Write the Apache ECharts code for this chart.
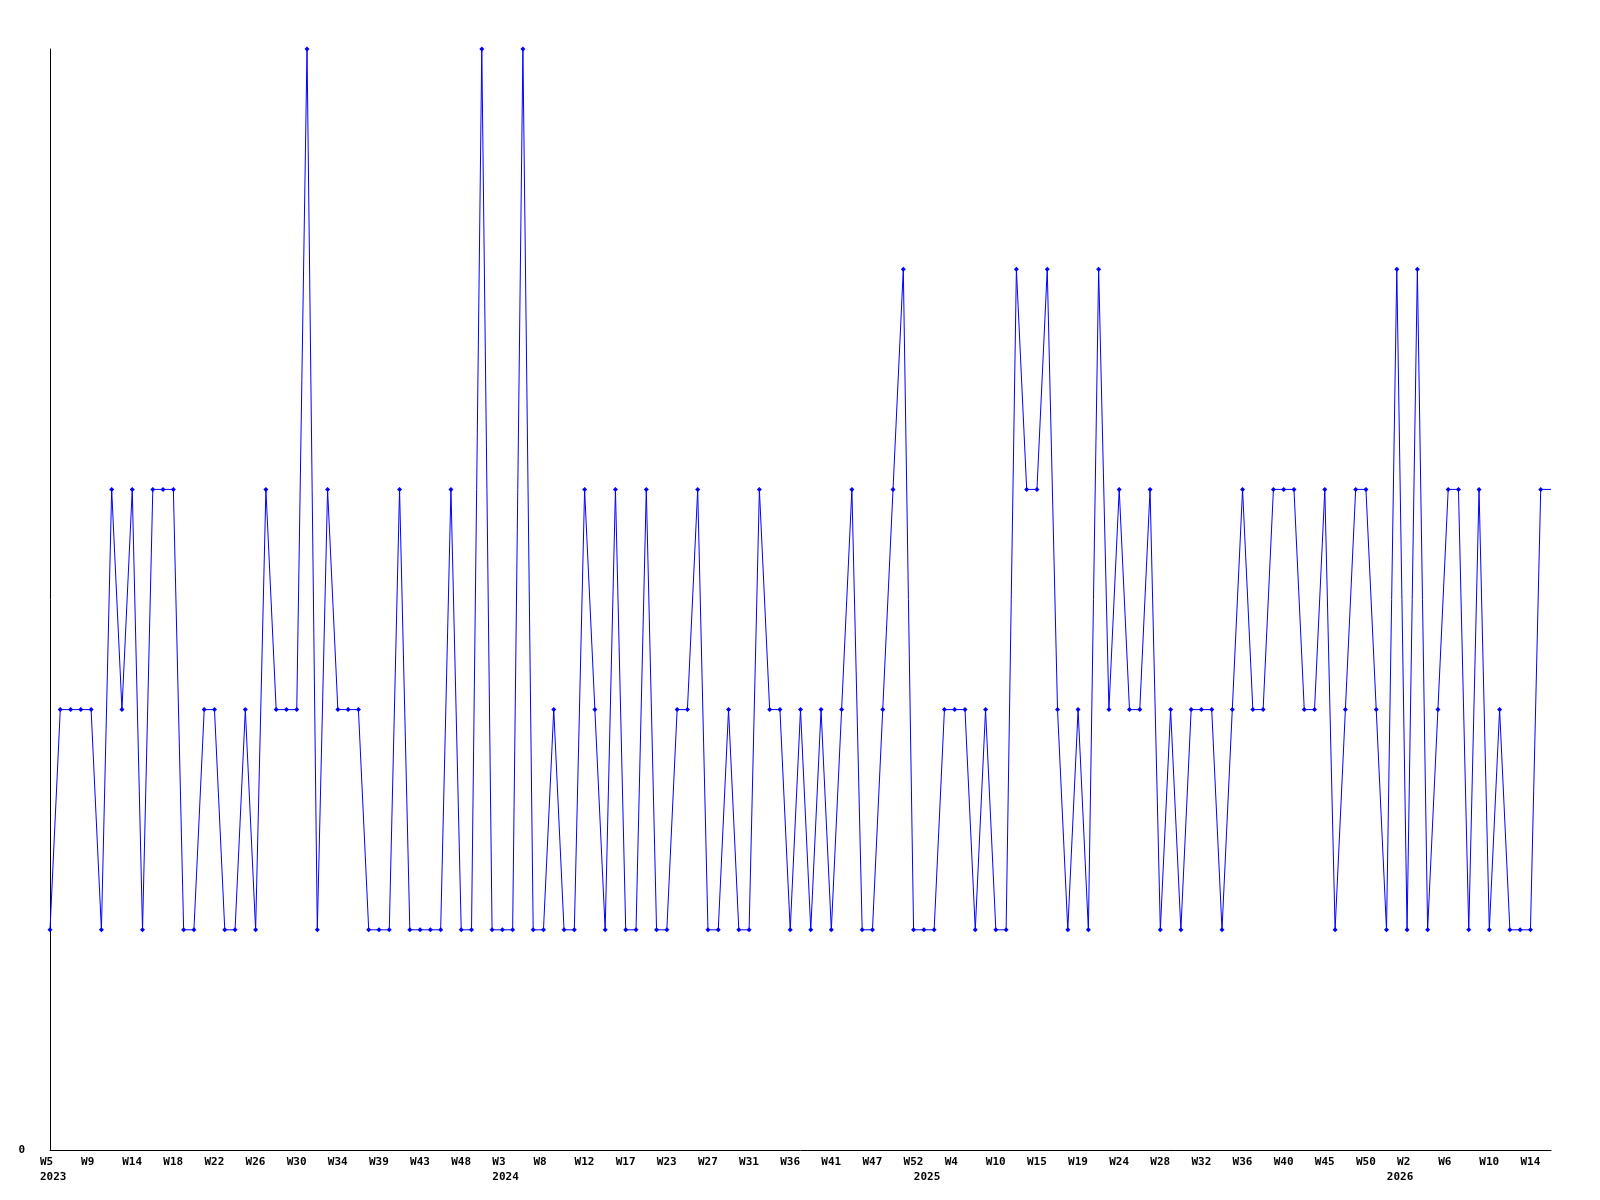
<!DOCTYPE html>
<html>
<head>
<meta charset="utf-8">
<script src="https://cdn.jsdelivr.net/npm/echarts@6/dist/echarts.min.js"></script>
<style>
  html, body { margin: 0; padding: 0; background: #ffffff; }
  #chart { width: 1600px; height: 1200px; }
</style>
</head>
<body>
<div id="chart"></div>
<script>
// Values (one per period); the last one is the line's end at the right edge.
const values = [
  1, 2, 2, 2, 2, 1, 3, 2, 3, 1,
  3, 3, 3, 1, 1, 2, 2, 1, 1, 2,
  1, 3, 2, 2, 2, 5, 1, 3, 2, 2,
  2, 1, 1, 1, 3, 1, 1, 1, 1, 3,
  1, 1, 5, 1, 1, 1, 5, 1, 1, 2,
  1, 1, 3, 2, 1, 3, 1, 1, 3, 1,
  1, 2, 2, 3, 1, 1, 2, 1, 1, 3,
  2, 2, 1, 2, 1, 2, 1, 2, 3, 1,
  1, 2, 3, 4, 1, 1, 1, 2, 2, 2,
  1, 2, 1, 1, 4, 3, 3, 4, 2, 1,
  2, 1, 4, 2, 3, 2, 2, 3, 1, 2,
  1, 2, 2, 2, 1, 2, 3, 2, 2, 3,
  3, 3, 2, 2, 3, 1, 2, 3, 3, 2,
  1, 4, 1, 4, 1, 2, 3, 3, 1, 3,
  1, 2, 1, 1, 1, 3, 3
];

// Week tick labels, one every 4 periods starting with the first one.
const weekLabels = [
  'W5', 'W9', 'W14', 'W18', 'W22', 'W26', 'W30', 'W34', 'W39', 'W43', 'W48',
  'W3', 'W8', 'W12', 'W17', 'W23', 'W27', 'W31', 'W36', 'W41', 'W47', 'W52',
  'W4', 'W10', 'W15', 'W19', 'W24', 'W28', 'W32', 'W36', 'W40', 'W45', 'W50',
  'W2', 'W6', 'W10', 'W14'
];
const weekLabelStep = 4;

// Year labels and the period where each one sits.
const yearLabels = ['2023', '2024', '2025', '2026'];
const yearLabelPeriods = [0, 44, 85, 131];

const yMin = 0;
const yMax = 5;

const categories = values.map((v, i) => String(i));
const seriesData = values.map((v, i) =>
  i === values.length - 1 ? { value: v, symbol: 'none' } : v
);

const FONT = 'DejaVu Sans Mono';
const richLabel = {
  a: { width: 20, align: 'left', fontFamily: FONT, fontWeight: 'bold', fontSize: 11, color: '#000' }
};

const chart = echarts.init(document.getElementById('chart'), null, { renderer: 'canvas' });
chart.setOption({
  animation: false,
  backgroundColor: '#ffffff',
  grid: { left: 50, right: 49, top: 49, bottom: 50 },
  xAxis: [
    {
      type: 'category',
      data: categories,
      boundaryGap: false,
      axisLine: { show: true, lineStyle: { color: '#000', width: 1 } },
      axisTick: { show: false },
      splitLine: { show: false },
      axisLabel: {
        margin: 7,
        interval: (i) => i % weekLabelStep === 0 && i / weekLabelStep < weekLabels.length,
        formatter: (val, i) => '{a|' + (weekLabels[i / weekLabelStep] || '') + '}',
        rich: richLabel
      }
    },
    {
      type: 'category',
      data: categories,
      boundaryGap: false,
      position: 'bottom',
      offset: 15,
      axisLine: { show: false },
      axisTick: { show: false },
      splitLine: { show: false },
      axisLabel: {
        margin: 7,
        interval: (i) => yearLabelPeriods.indexOf(i) >= 0,
        formatter: (val, i) => '{a|' + yearLabels[yearLabelPeriods.indexOf(i)] + '}',
        rich: richLabel
      }
    }
  ],
  yAxis: {
    type: 'value',
    min: yMin,
    max: yMax,
    interval: yMax - yMin,
    axisLine: { show: true, lineStyle: { color: '#000', width: 1 } },
    axisTick: { show: false },
    splitLine: { show: false },
    axisLabel: {
      showMaxLabel: false,
      margin: 25,
      fontFamily: FONT,
      fontWeight: 'bold',
      fontSize: 11,
      color: '#000'
    }
  },
  series: [
    {
      type: 'line',
      data: seriesData,
      xAxisIndex: 0,
      symbol: 'diamond',
      symbolSize: 5,
      showAllSymbol: true,
      color: '#0000ff',
      itemStyle: { color: '#0000ff' },
      lineStyle: { color: '#0000ff', width: 1 }
    }
  ]
});
</script>
</body>
</html>
